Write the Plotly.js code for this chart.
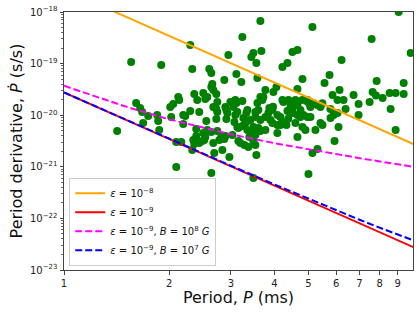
<!DOCTYPE html>
<html>
<head>
<meta charset="utf-8">
<script src="https://cdn.plot.ly/plotly-3.0.1.min.js"></script>
<style>html,body{margin:0;padding:0;background:#fff;}#chart{width:419px;height:313px;}</style>
</head>
<body>
<div id="chart"></div>
<script>
// Observed pulsars: period (ms) and period derivative (s/s)
const periodMs = [
 1.556,1.897,2.296,2.952,2.327,2.603,2.638,3.111,2.874,2.655,2.638,2.673,3.644,5.134,3.236,7.580,9.058,9.804,3.479,3.434,
 3.549,3.668,4.500,4.651,6.218,4.213,4.355,3.215,3.573,4.807,5.745,5.559,7.834,9.361,2.358,2.502,2.726,2.405,2.535,2.569,
 2.122,2.136,2.053,2.013,1.608,1.651,1.673,1.741,1.847,1.859,1.684,1.872,1.419,2.026,2.193,2.296,2.437,2.673,2.726,2.894,
 2.913,3.031,3.111,2.552,2.726,2.913,3.090,2.193,2.389,2.569,2.638,2.744,2.818,2.389,2.535,2.894,3.131,2.094,2.164,2.358,
 2.327,2.437,2.518,2.673,2.690,2.781,2.874,2.971,2.094,2.638,3.071,2.744,2.932,2.744,3.766,3.717,3.970,4.050,4.651,5.860,
 6.137,6.056,6.301,6.731,7.630,7.800,8.150,8.533,8.878,9.361,6.957,7.480,2.991,3.090,3.236,3.051,3.131,3.323,3.644,3.692,
 3.573,3.596,3.412,3.526,3.644,3.479,3.596,3.866,3.944,3.841,3.766,4.240,4.383,4.500,4.590,4.651,4.807,4.968,5.067,5.168,
 5.306,5.412,4.076,4.157,4.213,4.076,4.412,4.500,4.651,4.744,4.839,4.968,5.067,4.590,4.807,4.903,5.237,5.783,5.899,6.056,
 6.385,6.957,8.590,6.096,8.878,5.484,3.301,3.766,3.944,3.892,4.157,4.076,4.651,5.938,5.306,5.134,5.001,3.479,3.194,3.280,
 3.367,3.479,3.549,3.526,3.389,2.222,3.345,3.526,3.258,3.345,2.502,2.486,2.342,3.031,3.152,3.236,3.345,3.457,3.152,3.526,
 2.837,4.325,5.412,3.644,4.442,4.744,4.213,4.355,4.980,5.050,5.480,5.780,4.380,3.960
];
const pdotObs = [
 1.07e-19,9.40e-20,2.29e-19,1.47e-19,7.86e-20,7.86e-20,6.57e-20,6.29e-20,4.81e-20,4.02e-20,3.52e-20,3.08e-20,6.69e-19,5.12e-19,3.28e-19,3.00e-19,1.00e-18,1.60e-19,1.60e-19,1.34e-19,
 1.03e-19,1.75e-19,1.68e-19,1.84e-19,1.17e-19,8.59e-20,1.03e-19,4.40e-20,5.26e-20,5.03e-20,6.01e-20,4.21e-20,4.60e-20,4.21e-20,2.58e-20,2.69e-20,2.58e-20,1.97e-20,2.06e-20,2.25e-20,
 2.25e-20,1.97e-20,1.65e-20,1.44e-20,1.72e-20,1.38e-20,1.15e-20,9.65e-21,1.01e-20,7.72e-21,7.06e-21,5.17e-21,4.94e-21,9.23e-21,1.01e-20,1.21e-20,1.15e-20,1.44e-20,1.32e-20,1.44e-20,
 1.26e-20,1.72e-20,1.72e-20,7.72e-21,8.44e-21,8.44e-21,1.01e-20,6.75e-21,5.40e-21,5.17e-21,4.73e-21,4.94e-21,3.78e-21,3.95e-21,3.78e-21,3.95e-21,5.90e-21,3.02e-21,3.02e-21,2.77e-21,
 2.12e-21,2.89e-21,3.31e-21,2.89e-21,1.85e-21,3.31e-21,3.46e-21,1.55e-21,9.91e-22,7.58e-22,7.38e-21,1.80e-20,1.10e-20,1.15e-20,3.08e-20,2.25e-20,2.82e-20,3.52e-20,3.22e-20,2.46e-20,
 3.08e-20,1.97e-20,1.97e-20,2.46e-20,2.82e-20,2.40e-20,2.15e-20,2.69e-20,2.69e-20,2.58e-20,1.65e-20,1.80e-20,1.80e-20,1.97e-20,1.88e-20,1.44e-20,1.15e-20,1.10e-20,2.25e-20,1.97e-20,
 1.72e-20,1.26e-20,8.07e-21,9.23e-21,8.07e-21,5.90e-21,5.65e-21,1.38e-20,1.26e-20,1.10e-20,9.23e-21,1.80e-20,1.97e-20,1.38e-20,1.97e-20,1.58e-20,1.97e-20,1.97e-20,1.44e-20,1.72e-20,
 1.58e-20,1.44e-20,1.01e-20,9.23e-21,7.38e-21,6.46e-21,1.26e-20,1.10e-20,1.01e-20,9.23e-21,1.01e-20,9.23e-21,9.23e-21,7.06e-21,5.90e-21,5.17e-21,5.17e-21,8.82e-21,1.01e-20,1.10e-20,
 1.32e-20,1.01e-20,1.32e-20,5.90e-21,5.17e-21,6.46e-21,7.06e-21,5.17e-21,7.06e-21,8.07e-21,6.46e-21,4.52e-21,3.78e-21,3.16e-21,2.21e-21,1.85e-21,7.25e-22,6.07e-22,2.89e-21,2.65e-21,
 2.42e-21,3.16e-21,1.69e-21,4.13e-21,3.78e-21,9.65e-21,1.26e-20,1.15e-20,8.82e-21,7.72e-21,4.52e-21,3.16e-21,3.31e-21,4.13e-21,5.65e-21,6.18e-21,5.17e-21,4.52e-21,3.16e-21,2.65e-21,
 2.12e-21,6.46e-21,7.06e-21,4.94e-21,1.58e-20,1.26e-20,1.97e-20,1.20e-20,1.80e-20,1.60e-20,1.70e-20,1.32e-20,8.50e-21,1.45e-20
];

// Model curves
const curveP2 = [1, 10];
const pdotEps8 = [2.75e-18, 2.75e-21];
const pdotEps9 = [2.75e-20, 2.75e-23];
const curveP = [1, 1.5, 2, 3, 4, 5, 6, 7, 8, 9, 10];
const pdotEps9B8 = [3.72e-20,1.47e-20,8.3e-21,4.27e-21,2.87e-21,2.17e-21,1.75e-21,1.47e-21,1.27e-21,1.12e-21,1.00e-21];
const pdotEps9B7 = [2.76e-20,8.21e-21,3.49e-21,1.05e-21,4.54e-22,2.40e-22,1.44e-22,9.41e-23,6.59e-23,4.85e-23,3.73e-23];

const legendNames = [
  '<i>ε</i> = 10<sup>−8</sup>',
  '<i>ε</i> = 10<sup>−9</sup>',
  '<i>ε</i> = 10<sup>−9</sup>, <i>B</i> = 10<sup>8</sup> <i>G</i>',
  '<i>ε</i> = 10<sup>−9</sup>, <i>B</i> = 10<sup>7</sup> <i>G</i>'
];
const xTickVals = [1,2,3,4,5,6,7,8,9];
const xTickText = ['1','2','3','4','5','6','7','8','9'];
const yTickVals = [1e-23,1e-22,1e-21,1e-20,1e-19,1e-18];
const yTickText = ['10<sup>−23</sup>','10<sup>−22</sup>','10<sup>−21</sup>','10<sup>−20</sup>','10<sup>−19</sup>','10<sup>−18</sup>'];

const traces = [
  {x: periodMs, y: pdotObs, type:'scatter', mode:'markers', showlegend:false,
   marker:{color:'#008000', size:8, line:{width:0}}},
  {x: curveP2, y: pdotEps8, type:'scatter', mode:'lines', name: legendNames[0],
   line:{color:'#FFA500', width:2}},
  {x: curveP2, y: pdotEps9, type:'scatter', mode:'lines', name: legendNames[1],
   line:{color:'#FF0000', width:2}},
  {x: curveP, y: pdotEps9B8, type:'scatter', mode:'lines', name: legendNames[2],
   line:{color:'#FF00FF', width:2, dash:'7px,3px'}},
  {x: curveP, y: pdotEps9B7, type:'scatter', mode:'lines', name: legendNames[3],
   line:{color:'#0000FF', width:2, dash:'7px,3px'}}
];

const axisCommon = {
  showline:true, mirror:true, linecolor:'#444', linewidth:1,
  ticks:'outside', tickcolor:'#444', ticklen:3.5, tickwidth:1,
  showgrid:false, zeroline:false,
  tickfont:{family:'DejaVu Sans', size:10, color:'#222'}
};

const layout = {
  width:419, height:313,
  margin:{l:64, r:6, t:12, b:43},
  paper_bgcolor:'#fff', plot_bgcolor:'#fff',
  font:{family:'DejaVu Sans', color:'#111'},
  xaxis: Object.assign({}, axisCommon, {
    type:'log', range:[0, 0.998],
    tickmode:'array', tickvals: xTickVals, ticktext: xTickText,
    title:{text:'Period, <i>P</i> (ms)', font:{family:'DejaVu Sans', size:16, color:'#111'}, standoff:3}
  }),
  yaxis: Object.assign({}, axisCommon, {
    type:'log', range:[-23, -18],
    tickmode:'array', tickvals: yTickVals, ticktext: yTickText,
    minor:{dtick:'D1', ticks:'outside', ticklen:2, tickcolor:'#444', tickwidth:0.8, showgrid:false},
    title:{text:'Period derivative, <i>Ṗ</i> (s/s)', font:{family:'DejaVu Sans', size:16, color:'#111'}, standoff:3}
  }),
  legend:{x:0.015, y:0.016, xanchor:'left', yanchor:'bottom',
    bgcolor:'rgba(255,255,255,0.85)', bordercolor:'#ccc', borderwidth:1,
    font:{family:'DejaVu Sans', size:10, color:'#111'},
    tracegroupgap:0, itemwidth:30},
  showlegend:true
};

Plotly.newPlot('chart', traces, layout, {staticPlot:true, displayModeBar:false});
</script>
</body>
</html>
